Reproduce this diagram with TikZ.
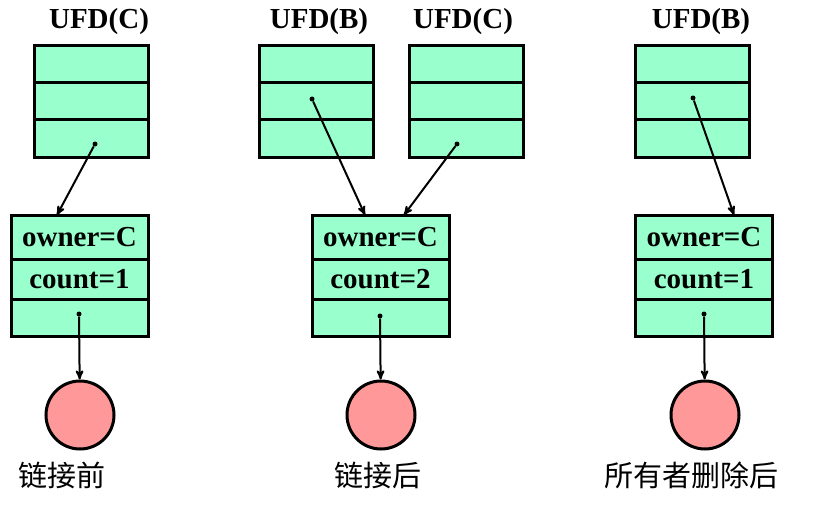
\documentclass[tikz,border=0pt]{standalone}
\usepackage{fontspec}
\setmainfont{Liberation Serif}
\newfontfamily\cjk{Noto Sans CJK SC}
\usepackage{tikz}
\usetikzlibrary{arrows, positioning}
\definecolor{cellgreen}{RGB}{153,255,204}
\definecolor{filepink}{RGB}{255,153,153}
\tikzset{>=stealth',
    cell/.style={rectangle,draw,fill=cellgreen,line width=3pt,inner sep=0pt,outer sep=0pt,
        minimum width=114pt,minimum height=37.3pt,font=\fontsize{29}{31}\selectfont\bfseries},
    fcb/.style={cell,minimum width=137pt},
    filenode/.style={circle,draw,fill=filepink,line width=3pt,minimum size=68pt,inner sep=0pt},
    dot/.style={circle,fill,inner sep=0pt,minimum size=5pt},
    ptr/.style={->,line width=2pt},
    title/.style={font=\fontsize{29}{31}\selectfont\bfseries},
    caption/.style={font=\fontsize{29}{31}\selectfont\cjk}}

\begin{document}
\begin{tikzpicture}[x=1pt,y=-1pt]
\useasboundingbox (0,0) rectangle (813,524);

% before linking
\node[title] (t1) at (99,22) {UFD(C)};
\node[cell] (a1) at (91,64) {};
\node[cell,below=0pt of a1] (a2) {};
\node[cell,below=0pt of a2] (a3) {};
\node[fcb,minimum height=44pt] (o1) at (79.5,237) {owner=C};
\node[fcb,minimum height=40pt,below=0pt of o1] (n1) {count=1};
\node[fcb,minimum height=37pt,below=0pt of n1] (p1) {};
\node[filenode] (f1) at (80,415) {};
\node[caption] (l1) at (62,475) {链接前};
\node[dot] (d1) at (95,144) {};
\node[dot] (e1) at (79,314) {};
\coordinate (h1) at (57,215);
\draw[ptr] (d1) -- (h1);
\draw[ptr] (e1) -- (f1);

% after linking
\node[title] (t2) at (319,22) {UFD(B)};
\node[cell] (b1) at (316.5,64) {};
\node[cell,below=0pt of b1] (b2) {};
\node[cell,below=0pt of b2] (b3) {};
\node[title] (t3) at (463,22) {UFD(C)};
\node[cell] (c1) at (466.5,64) {};
\node[cell,below=0pt of c1] (c2) {};
\node[cell,below=0pt of c2] (c3) {};
\node[fcb,minimum height=44pt] (o2) at (380.5,237) {owner=C};
\node[fcb,minimum height=40pt,below=0pt of o2] (n2) {count=2};
\node[fcb,minimum height=37pt,below=0pt of n2] (p2) {};
\node[filenode] (f2) at (381,415) {};
\node[caption] (l2) at (378,475) {链接后};
\node[dot] (d2) at (312,99) {};
\node[dot] (d3) at (457,144) {};
\node[dot] (e2) at (380,316) {};
\coordinate (h2) at (365,215);
\coordinate (h3) at (404,215);
\draw[ptr] (d2) -- (h2);
\draw[ptr] (d3) -- (h3);
\draw[ptr] (e2) -- (f2);

% after owner deletes
\node[title] (t4) at (701,22) {UFD(B)};
\node[cell] (g1) at (692.5,64) {};
\node[cell,below=0pt of g1] (g2) {};
\node[cell,below=0pt of g2] (g3) {};
\node[fcb,minimum height=44pt] (o3) at (704,237) {owner=C};
\node[fcb,minimum height=40pt,below=0pt of o3] (n3) {count=1};
\node[fcb,minimum height=37pt,below=0pt of n3] (p3) {};
\node[filenode] (f3) at (705,415) {};
\node[caption] (l3) at (691,475) {所有者删除后};
\node[dot] (d4) at (693,98) {};
\node[dot] (e3) at (704,314) {};
\coordinate (h4) at (734,215);
\draw[ptr] (d4) -- (h4);
\draw[ptr] (e3) -- (f3);
\end{tikzpicture}
\end{document}
